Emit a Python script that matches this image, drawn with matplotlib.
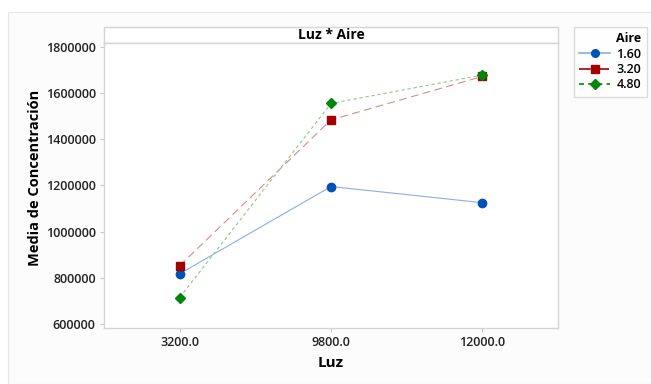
import matplotlib.pyplot as plt
from matplotlib.patches import Rectangle
from matplotlib.lines import Line2D

plt.rcParams['font.family'] = ['Open Sans', 'DejaVu Sans']

luz = ['3200.0', '9800.0', '12000.0']
aire = ['1.60', '3.20', '4.80']
medias = {
    '1.60': [817000, 1195000, 1125000],
    '3.20': [852000, 1484000, 1672000],
    '4.80': [714000, 1555000, 1678000],
}
yticks = [600000, 800000, 1000000, 1200000, 1400000, 1600000, 1800000]

estilos = {
    '1.60': dict(color='#0052b4', line='#8aaee6', marker='o', ls='-', ms=6),
    '3.20': dict(color='#a40000', line='#d98a8a', marker='s', ls=(0, (7, 4)), ms=6),
    '4.80': dict(color='#00860a', line='#8cc98c', marker='D', ls=(0, (3, 2.5)), ms=5.5),
}

W, H = 651, 384
fig = plt.figure(figsize=(W / 100, H / 100), dpi=100)
fig.patch.set_facecolor('white')

# light panel behind everything
panel = Rectangle((8 / W, 0), 1, 1 - 12 / H, transform=fig.transFigure,
                  facecolor='#fcfcfc', edgecolor='#e6e6e6', lw=0.8)
panel.set_zorder(-5)
fig.add_artist(panel)

ax = fig.add_axes([104 / W, 1 - 328 / H, (558 - 104) / W, (328 - 43) / H])
ax.set_facecolor('white')
ax.set_zorder(2)

x = list(range(len(luz)))
for a in aire:
    st = estilos[a]
    ax.plot(x, medias[a], color=st['line'], ls=st['ls'], lw=0.8, zorder=2)
    ax.plot(x, medias[a], ls='none', marker=st['marker'], color=st['color'],
            ms=st['ms'], zorder=3)

ax.set_xlim(-0.5, 2.5)
ax.set_ylim(582000, 1817000)
ax.set_xticks(x)
ax.set_xticklabels(luz)
ax.set_yticks(yticks)
ax.set_yticklabels([str(v) for v in yticks])
ax.tick_params(labelsize=9, color='#c8c8c8', length=3, width=0.8, pad=3)
for lab in ax.get_xticklabels() + ax.get_yticklabels():
    lab.set_fontweight('semibold')
    lab.set_color('#222222')
for s in ax.spines.values():
    s.set_color('#d4d4d4')
    s.set_linewidth(1)

ax.set_ylabel('Media de Concentración', fontsize=10.5, fontweight='bold')
ax.yaxis.set_label_coords(-0.136, 0.528)
ax.set_xlabel('Luz', fontsize=11, fontweight='bold', labelpad=5)

# strip with the panel title
strip = Rectangle((104 / W, 1 - 43 / H), (558 - 104) / W, 16 / H,
                  transform=fig.transFigure, facecolor='white',
                  edgecolor='#d4d4d4', lw=1)
strip.set_zorder(1)
fig.add_artist(strip)
fig.text((104 + 558) / 2 / W, 1 - 35 / H, 'Luz * Aire', ha='center', va='center',
         fontsize=10, fontweight='bold', zorder=3)

# legend
handles = [Line2D([], [], color=estilos[a]['line'] if a == '1.60' else estilos[a]['color'],
                  ls=estilos[a]['ls'], lw=1.2, marker=estilos[a]['marker'],
                  markerfacecolor=estilos[a]['color'], markeredgecolor=estilos[a]['color'],
                  ms=estilos[a]['ms'] - 0.5) for a in aire]
leg = fig.legend(handles, aire, loc='upper left', bbox_to_anchor=(574 / W, 1 - 27 / H),
                 title='Aire', fontsize=9, title_fontsize=9, frameon=True,
                 fancybox=False, handlelength=2.5, handletextpad=0.5, labelspacing=0.2,
                 borderpad=0.4, borderaxespad=0, alignment='right')
leg.get_title().set_fontweight('bold')
for t in leg.get_texts():
    t.set_fontweight('semibold')
leg.get_frame().set_edgecolor('#d4d4d4')
leg.get_frame().set_linewidth(1)
leg.set_zorder(5)

fig.savefig('out.png', dpi=100)
